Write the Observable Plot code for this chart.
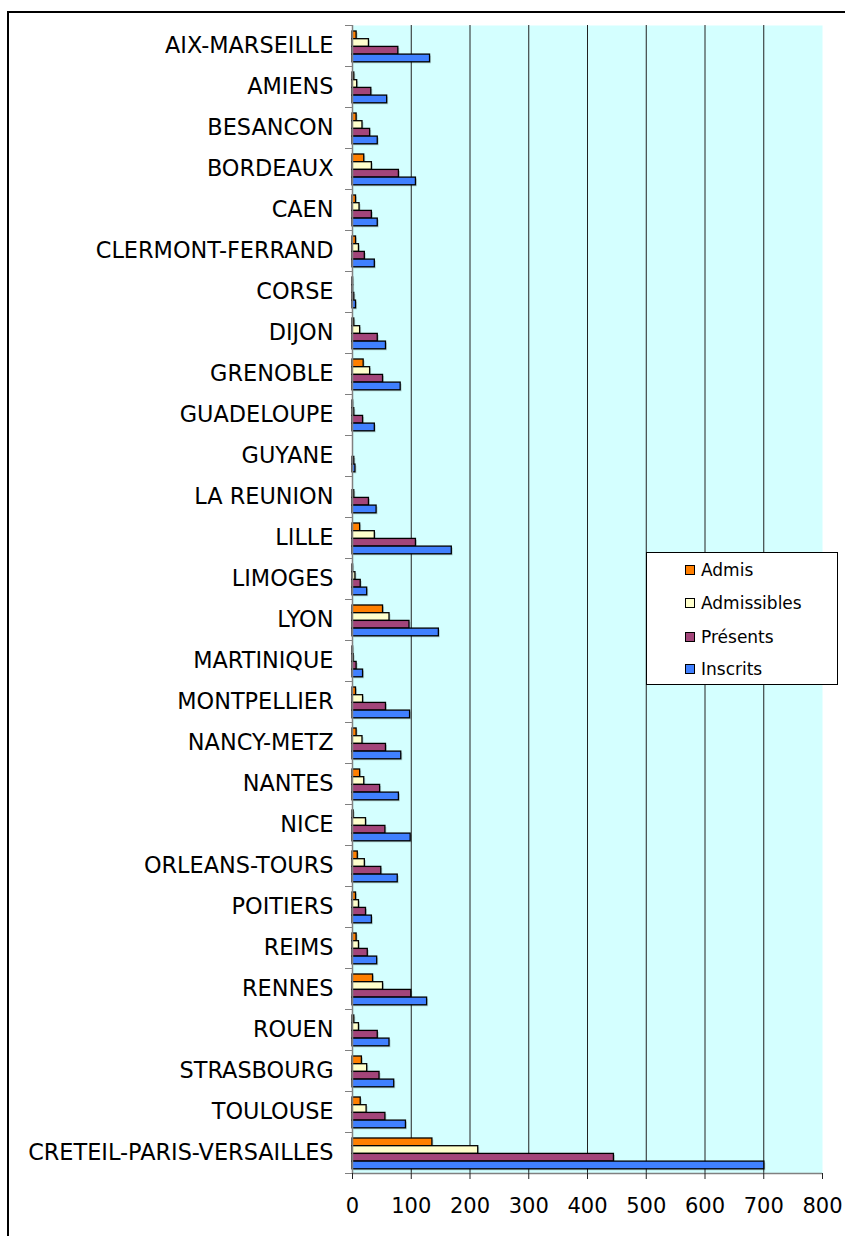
<!DOCTYPE html>
<html>
<head>
<meta charset="utf-8">
<script src="https://cdn.jsdelivr.net/npm/d3@7"></script>
<script src="https://cdn.jsdelivr.net/npm/@observablehq/plot@0.6"></script>
<style>
  body { margin: 0; background: #fff; font-family: "DejaVu Sans", Verdana, sans-serif; }
  #wrap { position: relative; width: 845px; height: 1236px; overflow: hidden; }
  #chart { position: absolute; left: 0; top: 0; }
  #border { position: absolute; left: 7px; top: 11px; width: 900px; height: 1300px;
            border-top: 2.5px solid #000; border-left: 2.5px solid #000; pointer-events: none; }
  #legend { position: absolute; left: 646px; top: 552px; width: 190px; height: 131px;
            background: #fff; border: 1px solid #000; }
  .item { position: absolute; left: 38px; height: 20px; display: flex; align-items: center;
          font-size: 17px; color: #000; }
  .sw { width: 8px; height: 8px; border: 1px solid #000; margin-right: 6px; }
</style>
</head>
<body>
<div id="wrap">
  <div id="border"></div>
  <div id="chart"></div>
  <div id="legend"></div>
</div>
<script>
const regions = ["AIX-MARSEILLE","AMIENS","BESANCON","BORDEAUX","CAEN","CLERMONT-FERRAND","CORSE","DIJON","GRENOBLE","GUADELOUPE","GUYANE","LA REUNION","LILLE","LIMOGES","LYON","MARTINIQUE","MONTPELLIER","NANCY-METZ","NANTES","NICE","ORLEANS-TOURS","POITIERS","REIMS","RENNES","ROUEN","STRASBOURG","TOULOUSE","CRETEIL-PARIS-VERSAILLES"];
const admis       = [7, 3, 7, 20, 6, 6, 1, 3, 19, 1, 0, 0, 13, 1, 52, 1, 6, 7, 13, 2, 9, 6, 7, 35, 3, 16, 14, 136];
const admissibles = [28, 8, 17, 33, 12, 11, 1, 13, 30, 3, 0, 3, 38, 5, 63, 2, 18, 17, 20, 23, 21, 11, 11, 52, 11, 25, 24, 214];
const presents    = [78, 32, 30, 79, 33, 21, 3, 43, 52, 18, 3, 28, 108, 14, 97, 7, 57, 57, 47, 56, 49, 23, 26, 100, 43, 46, 56, 445];
const inscrits    = [132, 59, 43, 108, 43, 38, 6, 57, 82, 38, 5, 41, 169, 25, 147, 18, 98, 83, 79, 99, 77, 33, 42, 127, 63, 71, 91, 701];
const series = ["Admis", "Admissibles", "Présents", "Inscrits"];
const colors = ["#FF7F00", "#FFFFCC", "#A3457A", "#4080FF"];
const xTicks = [0, 100, 200, 300, 400, 500, 600, 700, 800];

const values = [admis, admissibles, presents, inscrits];
const rows = [];
regions.forEach((r, i) => series.forEach((s, j) => rows.push({region: r, series: s, value: values[j][i], i, j})));

// group layout inside each category band (fractions of a band)
const pad = 6 / 41, step = 7.7 / 41;
const y1 = d => d.i + pad + d.j * step;
const y2 = d => d.i + pad + (d.j + 1) * step;

const chart = Plot.plot({
  width: 845,
  height: 1236,
  marginLeft: 352,
  marginRight: 23,
  marginTop: 25,
  marginBottom: 63,
  x: {domain: [0, 800], label: null},
  y: {domain: [0, regions.length], reverse: true, label: null},
  color: {domain: series, range: colors},
  style: {fontFamily: "'DejaVu Sans', Verdana, sans-serif", fontSize: "21px", color: "#000", background: "transparent"},
  marks: [
    Plot.frame({fill: "#D4FFFF", stroke: null}),
    Plot.ruleX(xTicks.filter(t => t > 0 && t < 800), {stroke: "#222", strokeWidth: 1}),
    Plot.rectX(rows, {x1: 0, x2: "value", y1, y2, fill: "#000", fillOpacity: 0.18, dx: 1.5, dy: 1.5}),
    Plot.rectX(rows, {x1: 0, x2: "value", y1, y2, fill: "series", stroke: "#000", strokeWidth: 1.3}),
    Plot.ruleX([0], {stroke: "#808080", strokeWidth: 1.5}),
    Plot.ruleY([regions.length], {stroke: "#808080", strokeWidth: 1.5}),
    Plot.axisY(d3.range(regions.length + 1), {tickSize: 7, tickFormat: () => "", stroke: "#808080"}),
    Plot.axisY(d3.range(regions.length).map(i => i + 0.5), {tickSize: 0, tickPadding: 19, tickFormat: d => regions[Math.floor(d)], fontSize: 22.4}),
    Plot.axisX(xTicks, {tickSize: 6, tickPadding: 19, fontSize: 21, stroke: "#222"})
  ]
});
document.getElementById("chart").appendChild(chart);

const legend = document.getElementById("legend");
const rowTops = [7, 40, 74, 106];
series.forEach((s, j) => {
  const it = document.createElement("div");
  it.className = "item";
  it.style.top = rowTops[j] + "px";
  const sw = document.createElement("span");
  sw.className = "sw";
  sw.style.background = colors[j];
  const tx = document.createElement("span");
  tx.textContent = s;
  it.appendChild(sw);
  it.appendChild(tx);
  legend.appendChild(it);
});
</script>
</body>
</html>
